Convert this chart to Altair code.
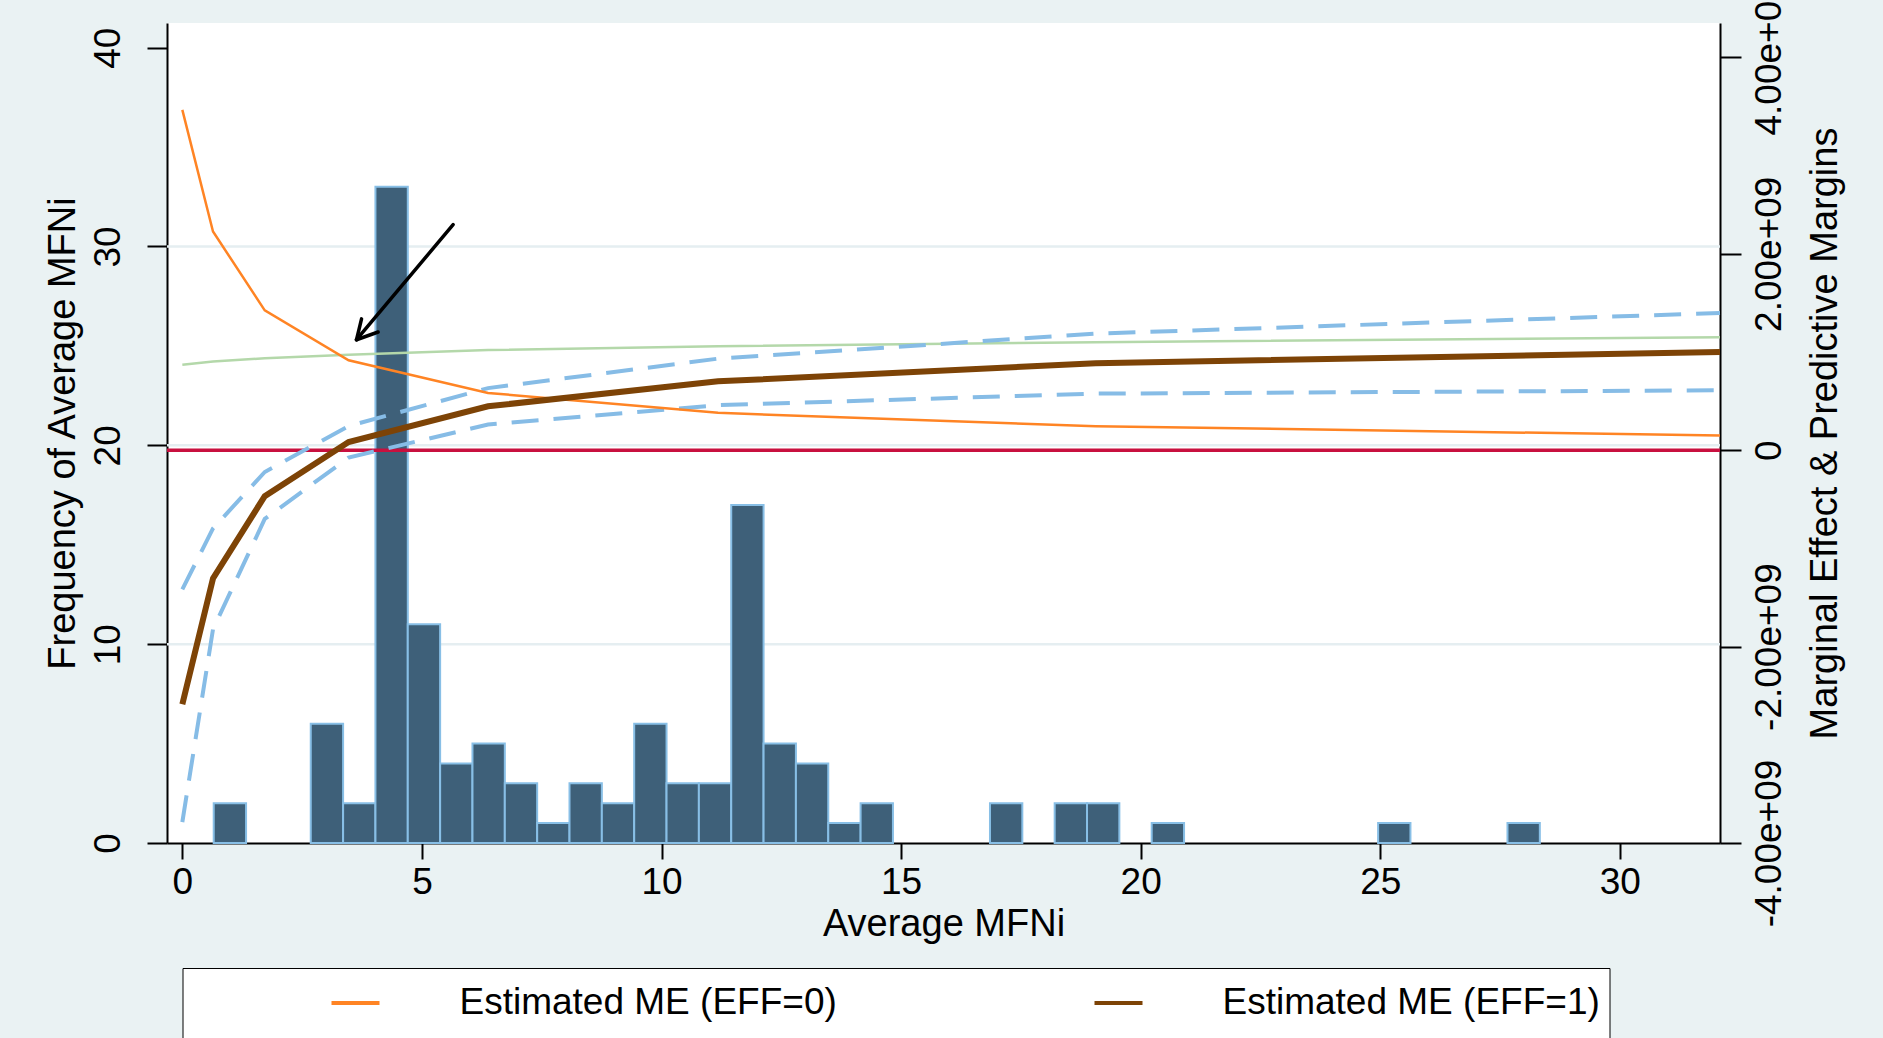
import altair as alt
import pandas as pd

FONT = "Liberation Sans"

# ---------------- data ----------------
# histogram of Average MFNi (bin edges start at 0.655, width 0.675)
bin_start = 0.655
bin_width = 0.675
counts = [2, 0, 0, 6, 2, 33, 11, 4, 5, 3, 1, 3, 2, 6, 3, 3, 17, 5, 4, 1, 2,
          0, 0, 0, 2, 0, 2, 2, 0, 1, 0, 0, 0, 0, 0, 0, 1, 0, 0, 0, 1]

# curves on the right axis (values in units of 1e9)
x_pts = [0, 0.64, 1.72, 3.47, 6.38, 11.18, 19.06, 32.09]
me_eff0 = [3.465, 2.227, 1.424, 0.915, 0.583, 0.380, 0.244, 0.149]       # orange
me_eff1 = [-2.587, -1.306, -0.468, 0.083, 0.447, 0.701, 0.886, 1.000]    # brown
ci_upper = [-1.417, -0.797, -0.222, 0.246, 0.632, 0.932, 1.187, 1.397]   # dashed
ci_lower = [-3.787, -1.824, -0.700, -0.075, 0.261, 0.459, 0.576, 0.610]  # dashed
margins = [0.871, 0.902, 0.937, 0.973, 1.019, 1.059, 1.100, 1.149]       # green
zero_line = [0.0]

grid_vals = [10, 20, 30]
left_ticks = [0, 10, 20, 30, 40]
x_ticks = [0, 5, 10, 15, 20, 25, 30]
right_ticks = [-4e9, -2e9, 0, 2e9, 4e9]

# annotation arrow (left-axis units)
arrow_x = [5.651, 3.635, 3.635]
arrow_y = [31.10, 25.31, 25.31]
arrow_x2 = [3.635, 4.086, 3.740]
arrow_y2 = [25.31, 25.70, 26.36]

legend_labels = ["Estimated ME (EFF=0)", "Estimated ME (EFF=1)",
                 "95% CI", "Predictive Margins", "Zero"]
legend_colors = ["#FF8424", "#7D4306", "#86BCE6", "#B4D8AA", "#C8103F"]

# ---------------- frames ----------------
hist_df = pd.DataFrame({
    "x": [bin_start + i * bin_width for i in range(len(counts))],
    "x2": [bin_start + (i + 1) * bin_width for i in range(len(counts))],
    "yl": counts,
    "yl2": [0] * len(counts),
})
hist_df = hist_df[hist_df["yl"] > 0]

series = {
    legend_labels[0]: me_eff0,
    legend_labels[1]: me_eff1,
    "ci_upper": ci_upper,
    "ci_lower": ci_lower,
    legend_labels[3]: margins,
}
rows = []
for name, vals in series.items():
    for xv, yv in zip(x_pts, vals):
        rows.append({"x": xv, "yr": yv * 1e9,
                     "series": "95% CI" if name.startswith("ci_") else name,
                     "part": name})
lines_df = pd.DataFrame(rows)

grid_df = pd.DataFrame({"yl": grid_vals})
arrow_df = pd.DataFrame({"x": arrow_x, "yl": arrow_y, "x2": arrow_x2, "yl2": arrow_y2})
zero_df = pd.DataFrame({"yr": zero_line, "series": ["Zero"]})

# ---------------- scales & axes ----------------
W, H = 1553, 820
xs = alt.Scale(domain=[-0.32, 32.09], nice=False, zero=False)
yls = alt.Scale(domain=[0, 41.24], nice=False, zero=False)
yrs = alt.Scale(domain=[-4.0e9, 4.350e9], nice=False, zero=False)
cs = alt.Scale(domain=legend_labels, range=legend_colors)

x_axis = alt.Axis(values=x_ticks, title="Average MFNi", tickSize=16, labelPadding=5,
                  labelBaseline="top", labelFontSize=37, labelFlush=False, labelOverlap=False,
                  titleFontSize=38, titleX=W / 2, titleY=92, titleAlign="center",
                  titleBaseline="alphabetic", titleFontWeight="normal", grid=False)

left_axis = alt.Axis(values=left_ticks, title="Frequency of Average MFNi", tickSize=20,
                     labelAngle=270, labelAlign="center", labelBaseline="alphabetic",
                     labelPadding=28, labelFontSize=37, labelOverlap=False,
                     titleFontSize=38, titleAngle=270, titleX=-93, titleY=H / 2,
                     titleAlign="center", titleBaseline="alphabetic",
                     titleFontWeight="normal", grid=False)

right_axis = alt.Axis(orient="right", values=right_ticks,
                      labelExpr="datum.value == 0 ? '0' : (datum.value < 0 ? '-' : '') + "
                                "replace(format(abs(datum.value), '.2e'), 'e+', 'e+0')",
                      title="Marginal Effect & Predictive Margins", tickSize=21,
                      labelAngle=270, labelAlign="center", labelBaseline="alphabetic",
                      labelPadding=39, labelFontSize=37, labelOverlap=False,
                      labelBound=False, labelFlush=False,
                      titleFontSize=38, titleAngle=270, titleX=116, titleY=H / 2,
                      titleAlign="center", titleBaseline="alphabetic",
                      titleFontWeight="normal", grid=False)

X = lambda f="x": alt.X(f"{f}:Q", scale=xs, axis=x_axis, title="Average MFNi")
YL = lambda: alt.Y("yl:Q", scale=yls, axis=left_axis, title="Frequency of Average MFNi")
YR = lambda: alt.Y("yr:Q", scale=yrs, axis=right_axis, title="Marginal Effect & Predictive Margins")

# ---------------- left-axis layers ----------------
grid = alt.Chart(grid_df).mark_rule(color="#E5EEF1", strokeWidth=2.5).encode(y=YL())

bars = alt.Chart(hist_df).mark_rect(color="#3E6079", stroke="#88BFE6", strokeWidth=2).encode(
    x=X(), x2="x2:Q", y=YL(), y2="yl2:Q",
)

arrow = alt.Chart(arrow_df).mark_rule(color="black", strokeWidth=3.5, strokeCap="round").encode(
    x=X(), x2="x2:Q", y=YL(), y2="yl2:Q",
)

left = alt.layer(grid, bars, arrow)

# ---------------- right-axis layers ----------------
legend = alt.Legend(orient="none", legendX=15.5, legendY=945, direction="horizontal",
                    columns=2, title=None, fillColor="white", strokeColor="black",
                    padding=9, symbolType="stroke", symbolSize=2304, symbolStrokeWidth=4,
                    symbolOffset=138, labelOffset=78, labelFontSize=37, labelFont=FONT,
                    labelColor="black", labelLimit=2000, columnPadding=117, rowPadding=10)

COL = lambda: alt.Color("series:N", scale=cs, legend=legend, title=None)

zero = alt.Chart(zero_df).mark_rule(strokeWidth=3.5).encode(y=YR(), color=COL())

def curve(part, width, dash=None):
    kw = dict(strokeWidth=width, interpolate="linear")
    if dash:
        kw["strokeDash"] = dash
    return alt.Chart(lines_df).transform_filter(alt.datum.part == part).mark_line(**kw).encode(
        x=X(), y=YR(), color=COL(), order="x:Q",
    )

right = alt.layer(
    zero,
    curve(legend_labels[3], 2.5),
    curve("ci_lower", 4, [27, 15]),
    curve("ci_upper", 4, [27, 15]),
    curve(legend_labels[0], 2.5),
    curve(legend_labels[1], 6),
)

chart = alt.layer(left, right).resolve_scale(y="independent").properties(
    width=W, height=H,
    autosize=alt.AutoSizeParams(type="none"),
    padding={"left": 167, "top": 23, "right": 163, "bottom": 195},
    background="#EAF2F3",
).configure_view(
    strokeWidth=0, fill="white"
).configure_axis(
    labelFont=FONT, titleFont=FONT, labelColor="black", titleColor="black",
    domainColor="black", tickColor="black", domainWidth=2, tickWidth=2,
)

chart.save("out.html", embed_options={"renderer": "svg", "actions": False})
